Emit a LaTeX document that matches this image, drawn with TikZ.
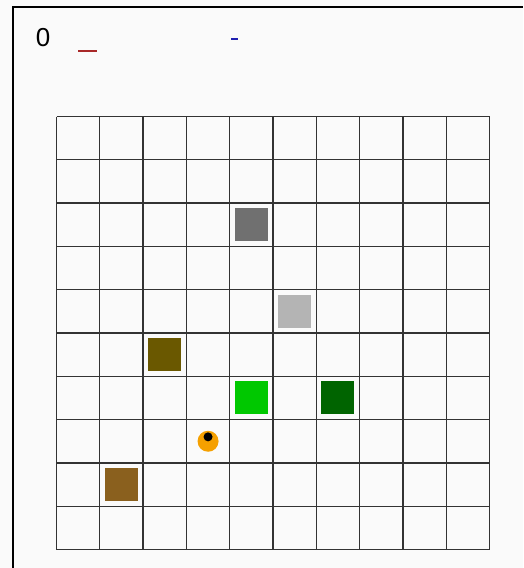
\documentclass[tikz,border=0pt]{standalone}
\usepackage{fontspec}
\setmainfont{Liberation Sans}
\usepackage{tikz}
\usetikzlibrary{positioning}

\definecolor{bgwhite}{HTML}{FAFAFA}
\definecolor{gridgray}{HTML}{333333}
\definecolor{rockgray}{HTML}{707070}
\definecolor{stonegray}{HTML}{B4B4B4}
\definecolor{olivebox}{HTML}{6A5800}
\definecolor{limebox}{HTML}{00C800}
\definecolor{forestbox}{HTML}{006400}
\definecolor{woodbox}{HTML}{8A601E}
\definecolor{agentorange}{HTML}{F5A000}
\definecolor{dashred}{HTML}{A82828}
\definecolor{dashblue}{HTML}{2020B0}

\begin{document}
\begin{tikzpicture}[x=1pt,y=-1pt,
    gridline/.style={draw=gridgray,line width=1.35pt},
    block/.style={minimum size=33pt,inner sep=0pt,outer sep=0pt},
    frameline/.style={black,line width=2pt}]
  \fill[bgwhite] (0,0) rectangle (523,568);
  \useasboundingbox (0,0) rectangle (523,568);
  \draw[frameline] (13,568) -- (13,7) -- (523,7);

  \node[font=\fontsize{26}{30}\selectfont] (score) at (43,38) {0};
  \draw[dashred,line width=2pt] (78,51) -- (97,51);
  \draw[dashblue,line width=2pt] (231,39) -- (238,39);

  % board, one unit per cell
  \begin{scope}[shift={(56.5,116.5)},x=43.3pt,y=-43.3pt]
    \foreach \i in {0,...,10} {
      \draw[gridline] (\i,0) -- (\i,10);
      \draw[gridline] (0,\i) -- (10,\i);
    }
    \node[block,fill=rockgray] (rock) at (4.5,2.5) {};
    \node[block,fill=stonegray] (stone) at (5.5,4.5) {};
    \node[block,fill=olivebox] (olive) at (2.5,5.5) {};
    \node[block,fill=limebox] (lime) at (4.5,6.5) {};
    \node[block,fill=forestbox] (forest) at (6.5,6.5) {};
    \node[block,fill=woodbox] (wood) at (1.5,8.5) {};
    \node[circle,fill=agentorange,minimum size=21pt,inner sep=0pt] (agent) at (3.5,7.5) {};
    \node[circle,fill=black,minimum size=9pt,inner sep=0pt,above=-11pt of agent] (eye) {};
  \end{scope}
\end{tikzpicture}
\end{document}
